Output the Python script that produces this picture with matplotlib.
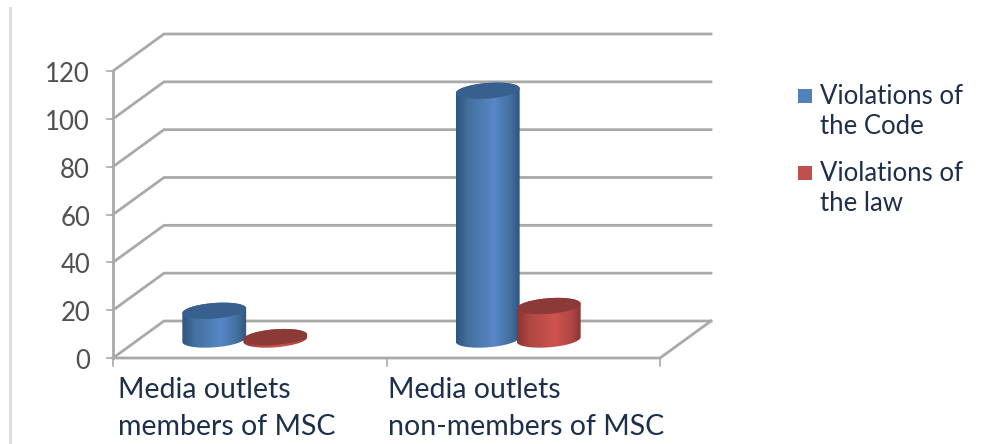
import numpy as np
import matplotlib
matplotlib.use('Agg')
import matplotlib.pyplot as plt
from matplotlib.colors import LinearSegmentedColormap
from matplotlib.patches import PathPatch, Rectangle
from matplotlib.path import Path

plt.rcParams['font.family'] = ['Lato', 'DejaVu Sans']

categories = ['Media outlets\nmembers of MSC', 'Media outlets\nnon-members of MSC']
series_names = ['Violations of\nthe Code', 'Violations of\nthe law']
series_colors = ['#4f81bd', '#c0504d']
code_values = [12, 104]
law_values = [1, 14]
y_ticks = [0, 20, 40, 60, 80, 100, 120]

W, H = 982, 444
# pixel scales of the front plane
x_scale = (660 - 113) / 2.0
y_scale = (358 - 71) / 120.0
depth_x = 51 / x_scale
depth_y = 37 / y_scale
grid_col = '#a9a9a9'

fig = plt.figure(figsize=(W / 100, H / 100), dpi=100)
ax = fig.add_axes([0, 0, 1, 1])
ax.set_xlim(-113 / x_scale, (W - 113) / x_scale)
ax.set_ylim((358 - H) / y_scale, 358 / y_scale)
ax.axis('off')

# light rule on the far left of the image
ax.plot([-103 / x_scale] * 2, [(358 - H) / y_scale, (358 - 8) / y_scale], color='#dedede', lw=2.2)

# walls and gridlines
for v in y_ticks:
    ax.plot([0, depth_x, 2 + depth_x], [v, v + depth_y, v + depth_y], color=grid_col, lw=2)
    ax.plot([-6 / x_scale, 0], [v, v], color=grid_col, lw=1.2)
    ax.text(-23 / x_scale, v - 3.5 / y_scale, str(v), ha='right', va='center', fontsize=18.5, color='#505050')
ax.plot([0, 0], [0, 120], color=grid_col, lw=2)
ax.plot([0, 2, 2 + depth_x], [0, 0, depth_y], color=grid_col, lw=2)
for x in [0, 1, 2]:
    ax.plot([x, x], [0, -8 / y_scale], color=grid_col, lw=1.2)

for i, label in enumerate(categories):
    ax.text((5 + i * 270) / x_scale, -19 / y_scale, label, ha='left', va='top', fontsize=20.5,
            color='#1d2f4a', linespacing=1.5)


def cylinder(x, value, top_col, dark_col, mid_col, light_col, z):
    # x is the centre in category units, the base sits half way into the floor
    cx = x + depth_x / 2
    base = depth_y / 2
    a, b, tilt = 32.0, 7.8, np.radians(4.5)

    def ring(t, level):
        u = a * np.cos(t) * np.cos(tilt) - b * np.sin(t) * np.sin(tilt)
        w = a * np.cos(t) * np.sin(tilt) + b * np.sin(t) * np.cos(tilt)
        return cx + u / x_scale, level + w / y_scale

    # outline of the body: upper half of the top, lower half of the base
    t1 = np.linspace(0, np.pi, 60)
    t2 = np.linspace(np.pi, 2 * np.pi, 60)
    xa, ya = ring(t1, base + value)
    xb, yb = ring(t2, base)
    pts = np.column_stack([np.r_[xa, xb, xa[0]], np.r_[ya, yb, ya[0]]])
    codes = [Path.MOVETO] + [Path.LINETO] * (len(pts) - 2) + [Path.CLOSEPOLY]
    body = PathPatch(Path(pts, codes), facecolor='none', edgecolor='none', transform=ax.transData)
    ax.add_patch(body)

    cmap = LinearSegmentedColormap.from_list('c', [(0, dark_col), (0.2, mid_col), (0.6, light_col),
                                                   (0.85, mid_col), (1, dark_col)])
    im = ax.imshow(np.linspace(0, 1, 128).reshape(1, -1), cmap=cmap, aspect='auto', zorder=z,
                   extent=[cx - a / x_scale, cx + a / x_scale, base - 12 / y_scale,
                           base + value + 12 / y_scale])
    im.set_clip_path(body)

    t = np.linspace(0, 2 * np.pi, 120)
    xt, yt = ring(t, base + value)
    ax.fill(xt, yt, color=top_col, lw=0, zorder=z + 0.5)


bar_w = 61 / x_scale
for i in range(len(categories)):
    centre = i + 0.5
    cylinder(centre - bar_w, code_values[i], '#37608f', '#2f5681', '#44709f', '#5787c6', 5)
    cylinder(centre, law_values[i], '#8b3a37', '#8e3431', '#b04744', '#cf5350', 6)

ax.set_xlim(-113 / x_scale, (W - 113) / x_scale)
ax.set_ylim((358 - H) / y_scale, 358 / y_scale)

# legend, first text line level with the square
for name, col, top in zip(series_names, series_colors, [84, 161]):
    ax.add_patch(Rectangle((798 / W, 1 - (top + 19) / H), 14 / W, 14 / H, color=col, lw=0,
                           transform=ax.transAxes))
    ax.text(820 / W, 1 - top / H, name, transform=ax.transAxes, ha='left', va='top',
            fontsize=18.5, color='#1d2f4a', linespacing=1.27)

fig.savefig('out.png', dpi=100)
